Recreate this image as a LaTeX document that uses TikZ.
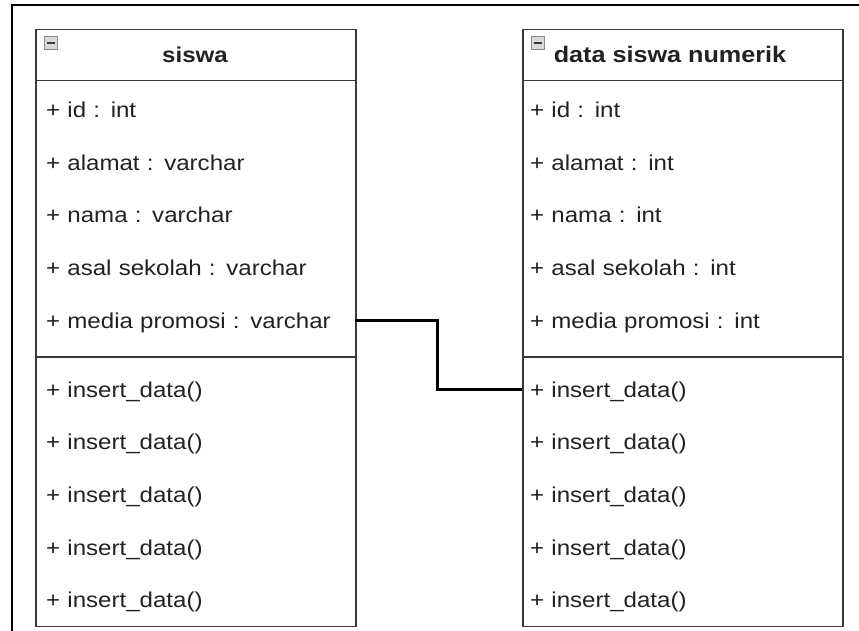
\documentclass[tikz,border=0pt]{standalone}
\usepackage{fontspec}
\setmainfont{Liberation Sans}[FakeStretch=1.12]
\definecolor{boxline}{HTML}{3A3A3A}
\definecolor{ink}{HTML}{222222}
\definecolor{iconfill}{HTML}{D9D9D9}
\definecolor{iconline}{HTML}{8A8A8A}
\tikzset{
  classbox/.style={draw=boxline, line width=1.8pt, fill=white, minimum width=320pt,
    minimum height=597pt, inner sep=0pt, anchor=north west},
  divider/.style={draw=boxline, line width=1.8pt},
  member/.style={anchor=north west, minimum width=320pt, minimum height=52.6pt,
    inner ysep=0pt, text height=15.5pt, text depth=0pt, align=left, text=ink,
    font=\fontsize{21.5}{26}\selectfont},
  classtitle/.style={font=\bfseries\fontsize{21.5}{26}\selectfont, text=ink, inner sep=0pt,
    text height=15.5pt, text depth=0pt},
  collapse/.style={draw=iconline, fill=iconfill, line width=0.9pt, minimum size=13pt,
    inner sep=0pt},
  link/.style={draw=black, line width=3.2pt},
  frame/.style={draw=black, line width=1.8pt}
}
\begin{document}
\begin{tikzpicture}[x=1pt, y=-1pt]
  \useasboundingbox[fill=white] (0,0) rectangle (859,630);
  \draw[frame] (859,5) -- (12,5) -- (12,631);

  % class "siswa"
  \node[classbox] (siswa) at (35,28.5) {};
  \draw[divider] (35,80.5) -- (355,80.5);
  \draw[divider] (35,357) -- (355,357);
  \node[collapse] (siswaIcon) at (51,43) {};
  \draw[boxline, line width=1.6pt] ([xshift=-4pt]siswaIcon.center) -- ([xshift=4pt]siswaIcon.center);
  \node[classtitle] (siswaTitle) at (195,54.5) {siswa};

  \foreach \txt [count=\i] in {+ id : int, + alamat : varchar, + nama : varchar,
      + asal sekolah : varchar, + media promosi : varchar} {
    \node[member, text width=298pt, inner xsep=11pt] (sA\i) at (35,{83.5+52.6*(\i-1)}) {\txt};
  }
  \foreach \i in {1,...,5} {
    \node[member, text width=298pt, inner xsep=11pt] (sM\i) at (35,{363+52.6*(\i-1)}) {+ insert\_data()};
  }

  % class "data siswa numerik"
  \node[classbox] (numerik) at (522,28.5) {};
  \draw[divider] (522,80.5) -- (842,80.5);
  \draw[divider] (522,357) -- (842,357);
  \node[collapse] (numerikIcon) at (538,43) {};
  \draw[boxline, line width=1.6pt] ([xshift=-4pt]numerikIcon.center) -- ([xshift=4pt]numerikIcon.center);
  \node[classtitle, font=\bfseries\fontsize{22.5}{27}\selectfont] (numerikTitle) at (670,54.5) {data siswa numerik};

  \foreach \txt [count=\i] in {+ id : int, + alamat : int, + nama : int,
      + asal sekolah : int, + media promosi : int} {
    \node[member, text width=304pt, inner xsep=8pt] (nA\i) at (522,{83.5+52.6*(\i-1)}) {\txt};
  }
  \foreach \i in {1,...,5} {
    \node[member, text width=304pt, inner xsep=8pt] (nM\i) at (522,{363+52.6*(\i-1)}) {+ insert\_data()};
  }

  % association
  \draw[link] (sA5.east) -- ++(82,0) |- (nM1.west);
\end{tikzpicture}
\end{document}
